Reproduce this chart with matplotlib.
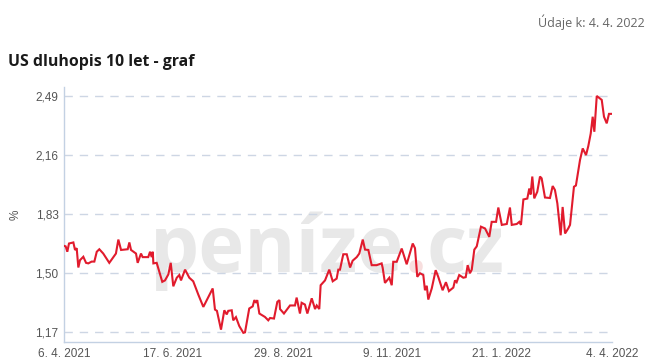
import matplotlib
matplotlib.use("Agg")
import matplotlib.pyplot as plt
import datetime as dt

start_date = dt.date(2021, 4, 6)
day_offsets = [0, 1.1, 2.2, 3.3, 6.2, 7.3, 8.4, 9.5, 10.6, 12.8, 14.6, 16.1, 18.3, 20.1, 21.7, 23.4,
               26.0, 30.0, 32.7, 34.4, 36.0, 37.8, 42.2, 43.3, 44.4, 47.7, 48.8, 51.0, 52.1, 55.8,
               57.0, 58.1, 58.8, 59.2, 61.4, 65.1, 66.9, 69.1, 70.7, 72.4, 74.7, 76.4, 77.5, 80.2,
               83.0, 85.6, 89.0, 92.3, 98.5, 100.0, 101.3, 104.0, 106.2, 107.8, 108.8, 111.1, 112.1,
               113.9, 116.1, 118.8, 119.9, 122.7, 125.0, 126.1, 127.2, 128.0, 129.4, 133.1, 135.3,
               136.5, 139.1, 141.3, 142.7, 143.1, 145.7, 147.9, 149.7, 153.0, 154.1, 155.2, 156.3,
               157.4, 159.6, 161.2, 164.1, 166.3, 167.4, 169.1, 170.0, 172.9, 175.7, 178.0, 180.6,
               181.7, 182.8, 185.0, 187.3, 189.5, 191.2, 193.9, 195.6, 197.9, 199.4, 201.6, 203.8,
               207.1, 210.4, 211.1, 212.6, 215.5, 217.1, 218.1, 220.4, 223.7, 227.0, 231.0, 232.5,
               234.0, 235.8, 238.0, 239.1, 240.3, 241.3, 243.6, 246.2, 247.9, 250.8, 253.0, 255.0,
               257.9, 259.0, 260.1, 261.8, 264.5, 266.1, 267.4, 268.9, 270.1, 271.8, 273.4, 276.2,
               278.9, 281.7, 283.3, 286.2, 287.7, 290.0, 293.3, 295.4, 296.6, 299.9, 301.6, 302.7,
               304.3, 306.9, 308.2, 309.1, 310.2, 311.5, 313.5, 315.3, 316.4, 318.6, 321.9, 323.7,
               325.2, 326.8, 329.0, 330.3, 331.9, 334.0, 335.2, 336.7, 337.8, 339.1, 341.8, 343.6,
               344.6, 345.8, 347.3, 348.9, 350.2, 351.3, 352.9, 356.2, 357.7, 359.5, 361.0, 362.8]
yields = [1.653, 1.65, 1.62, 1.666, 1.672, 1.63, 1.64, 1.532, 1.573, 1.592, 1.558, 1.555, 1.565, 1.565,
          1.62, 1.634, 1.61, 1.558, 1.59, 1.61, 1.688, 1.63, 1.634, 1.672, 1.63, 1.61, 1.558, 1.61,
          1.59, 1.59, 1.62, 1.59, 1.62, 1.555, 1.558, 1.452, 1.46, 1.493, 1.558, 1.427, 1.475, 1.49,
          1.46, 1.52, 1.475, 1.455, 1.38, 1.312, 1.415, 1.297, 1.29, 1.185, 1.293, 1.27, 1.29, 1.293,
          1.237, 1.255, 1.205, 1.167, 1.17, 1.303, 1.315, 1.35, 1.335, 1.35, 1.275, 1.256, 1.237,
          1.25, 1.247, 1.34, 1.35, 1.30, 1.275, 1.30, 1.32, 1.32, 1.364, 1.32, 1.275, 1.335, 1.325,
          1.275, 1.36, 1.30, 1.32, 1.30, 1.433, 1.46, 1.52, 1.455, 1.47, 1.52, 1.52, 1.606, 1.606,
          1.532, 1.57, 1.59, 1.61, 1.688, 1.632, 1.63, 1.545, 1.545, 1.555, 1.53, 1.446, 1.475,
          1.433, 1.564, 1.564, 1.638, 1.55, 1.666, 1.64, 1.48, 1.50, 1.49, 1.405, 1.43, 1.353,
          1.415, 1.517, 1.48, 1.405, 1.45, 1.40, 1.42, 1.46, 1.45, 1.49, 1.475, 1.478, 1.545, 1.50,
          1.52, 1.632, 1.65, 1.76, 1.75, 1.703, 1.787, 1.787, 1.867, 1.77, 1.775, 1.867, 1.77,
          1.775, 1.787, 1.77, 1.912, 1.917, 1.973, 1.94, 2.04, 1.918, 1.955, 2.04, 2.03, 1.923,
          1.92, 1.987, 1.965, 1.89, 1.712, 1.87, 1.722, 1.75, 1.77, 1.89, 1.983, 1.99, 2.132, 2.197,
          2.18, 2.16, 2.21, 2.28, 2.374, 2.29, 2.49, 2.468, 2.374, 2.337, 2.39, 2.39]

y_ticks = [1.17, 1.50, 1.83, 2.16, 2.49]
x_tick_dates = [dt.date(2021, 4, 6), dt.date(2021, 6, 17), dt.date(2021, 8, 29),
                dt.date(2021, 11, 9), dt.date(2022, 1, 21), dt.date(2022, 4, 4)]

base = dt.datetime.combine(start_date, dt.time())
dates = [base + dt.timedelta(days=d) for d in day_offsets]

fig = plt.figure(figsize=(6.5, 3.63), dpi=100)
ax = fig.add_axes([64/650, 1-342/363, (612-64)/650, (342-87)/363])

ax.plot(dates, yields, color="#e11b2d", linewidth=1.5, zorder=3, solid_joinstyle="miter")
ax.set_xlim(dt.datetime(2021, 4, 6), dt.datetime(2022, 4, 4))
ax.set_ylim(1.116, 2.54)

ax.set_yticks(y_ticks)
ax.set_yticklabels([f"{v:.2f}".replace(".", ",") for v in y_ticks])
ax.set_xticks([dt.datetime.combine(d, dt.time()) for d in x_tick_dates])
ax.set_xticklabels([f"{d.day}. {d.month}. {d.year}" for d in x_tick_dates])

ax.grid(axis="y", color="#cdd6e4", linestyle=(0, (6, 5)), linewidth=1.0, zorder=1)
ax.grid(axis="x", visible=False)
for s in ["top", "right"]:
    ax.spines[s].set_visible(False)
for s in ["left", "bottom"]:
    ax.spines[s].set_color("#c3d1e3")
    ax.spines[s].set_linewidth(1.0)
ax.tick_params(length=0, labelsize=8.5, labelcolor="#555555", pad=4)
for lab in ax.get_xticklabels() + ax.get_yticklabels():
    lab.set_family("Liberation Sans")
ax.set_ylabel("%", fontsize=8.5, color="#555555", family="Liberation Sans", labelpad=10)
ax.set_facecolor("none")
ax.set_zorder(2)

# watermark in three pieces (grey / pink dot / grey)
fig.canvas.draw()
renderer = fig.canvas.get_renderer()
wm_kw = dict(fontsize=56, fontweight="bold", family="Open Sans", va="baseline", ha="left", zorder=0)
x0 = 150
yb = 1 - 272/363
t1 = fig.text(x0/650, yb, "peníze", color="#e8e8e8", **wm_kw)
w1 = t1.get_window_extent(renderer).width
t2 = fig.text((x0 + w1)/650, yb, ".", color="#f7dede", **wm_kw)
w2 = t2.get_window_extent(renderer).width
t3 = fig.text((x0 + w1 + w2)/650, yb, "cz", color="#e8e8e8", **wm_kw)

fig.text(8/650, 1-62/363, "US dluhopis 10 let - graf", fontsize=11.4, fontweight="bold",
         color="#1a1a1a", family="Open Sans", va="center", ha="left")
fig.text(645/650, 1-22/363, "Údaje k: 4. 4. 2022", fontsize=9, color="#666666",
         family="Open Sans", va="center", ha="right")

fig.savefig("out.png", dpi=100)
